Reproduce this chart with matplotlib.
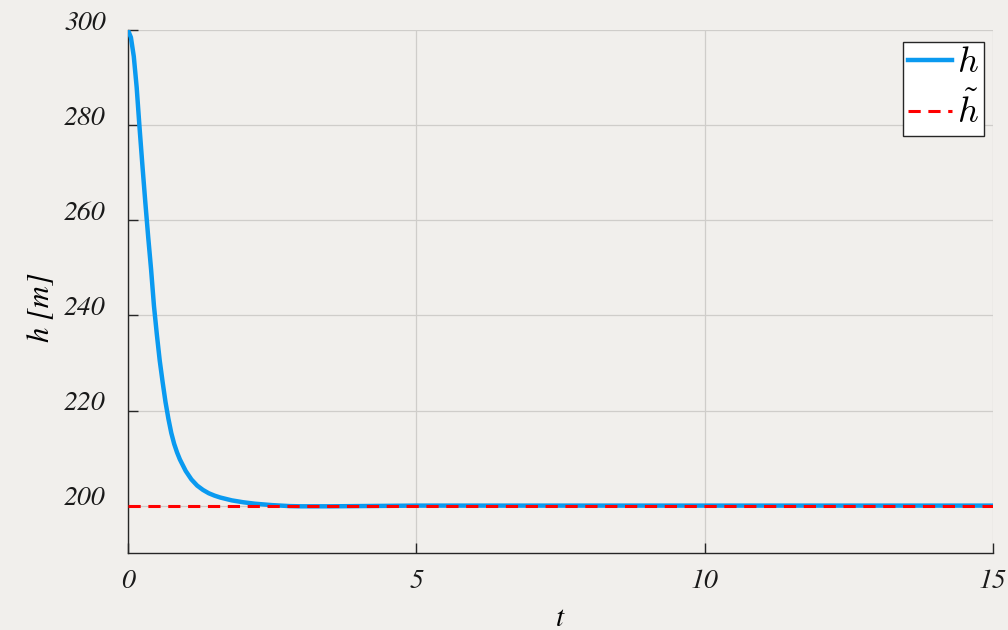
import numpy as np
import matplotlib.pyplot as plt
from matplotlib.transforms import ScaledTranslation

# height response h(t) and the reference height h~
t = [0.0, 0.05, 0.1, 0.15, 0.2, 0.25, 0.3, 0.35, 0.4, 0.45, 0.5, 0.55, 0.6,
     0.65, 0.7, 0.75, 0.8, 0.85, 0.9, 1.0, 1.1, 1.2, 1.3, 1.4, 1.5, 1.6,
     1.8, 2.0, 2.2, 2.5, 2.8, 3.0, 3.5, 4.0, 5.0, 7.0, 10.0, 15.0]
h = [300.0, 298.5, 294.5, 288.0, 279.5, 271.5, 263.8, 256.5, 249.7, 242.0,
     236.0, 230.5, 226.0, 221.8, 218.3, 215.3, 213.0, 211.2, 209.7, 207.3,
     205.5, 204.2, 203.3, 202.6, 202.1, 201.7, 201.1, 200.7, 200.4, 200.1,
     199.9, 199.85, 199.85, 199.9, 200.0, 200.0, 200.0, 200.0]
t_ref = [0.0, 15.0]
h_ref = [200.0, 200.0]

plt.rcParams['mathtext.fontset'] = 'cm'
plt.rcParams['font.family'] = ['STIXGeneral', 'DejaVu Serif']
plt.rcParams['font.style'] = 'italic'

fig = plt.figure(figsize=(10.08, 6.3), dpi=100, facecolor='#f1efec')
ax = fig.add_axes([0.127, 0.122, 0.858, 0.83])
ax.set_facecolor('none')

ax.plot(t, h, color='#0a9af0', lw=3.2, label='$h$', zorder=3)
ax.plot(t_ref, h_ref, color='#ff0000', lw=2.2, ls=(0, (4, 2.5)),
        label=r'$\tilde{h}$', zorder=4)

ax.set_xlim(0, 15)
ax.set_ylim(190, 300)
ax.set_xticks([0, 5, 10, 15])
ax.set_yticks([200, 220, 240, 260, 280, 300])
ax.grid(True, color='#cfcdca', lw=0.9)
ax.set_axisbelow(True)

for s in ['top', 'right']:
    ax.spines[s].set_visible(False)
for s in ['left', 'bottom']:
    ax.spines[s].set_color('#262626')
    ax.spines[s].set_linewidth(1.0)

ax.tick_params(direction='in', length=7, width=1.0, color='#262626',
               labelsize=20, labelcolor='#1a1a1a')
ax.tick_params(axis='y', pad=16)
ax.tick_params(axis='x', pad=12)

# y tick labels sit a little above their ticks
lift = ScaledTranslation(0, 7 / 72, fig.dpi_scale_trans)
for lab in ax.get_yticklabels():
    lab.set_transform(lab.get_transform() + lift)

ax.set_xlabel('t', fontsize=21, labelpad=8)
ax.set_ylabel('h [m]', fontsize=22)
ax.yaxis.set_label_coords(-0.084, 0.47)

leg = ax.legend(loc='upper right', bbox_to_anchor=(0.99, 0.978), fontsize=26,
                handlelength=1.2, handletextpad=0.15, borderpad=0.15,
                labelspacing=0.35, borderaxespad=0.0, fancybox=False,
                framealpha=1.0)
leg.get_frame().set_edgecolor('#262626')
leg.get_frame().set_linewidth(1.0)

fig.savefig('out.png', dpi=100, facecolor=fig.get_facecolor())
